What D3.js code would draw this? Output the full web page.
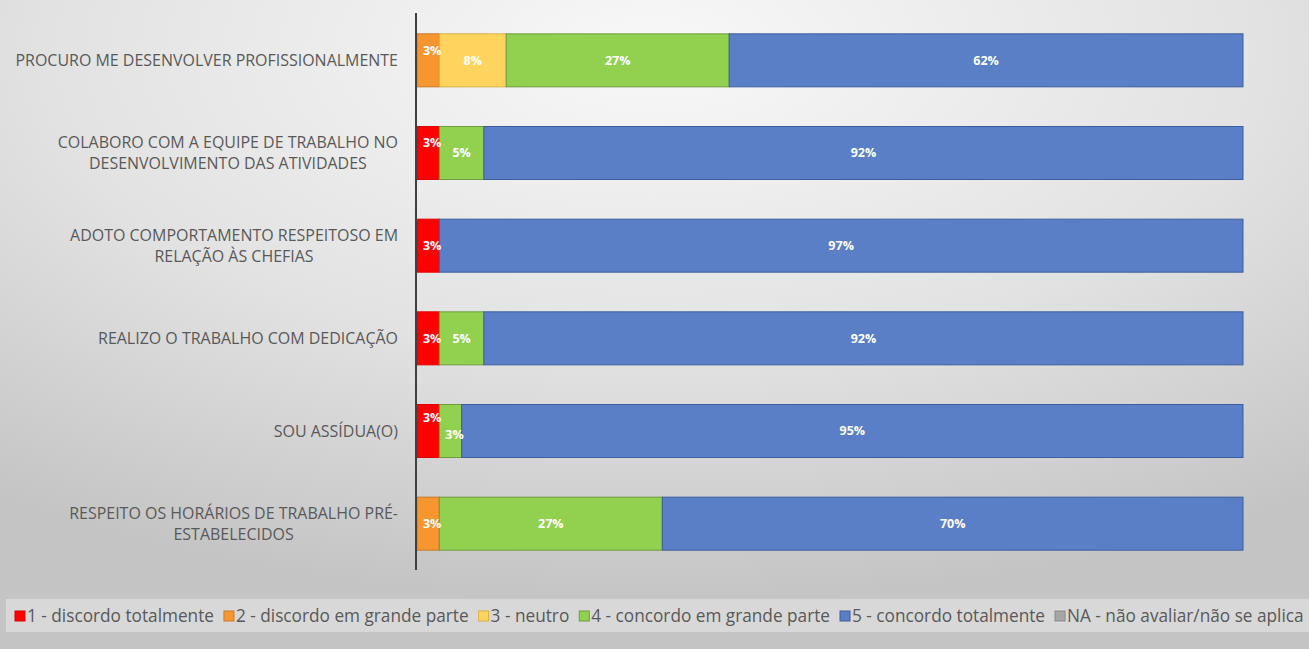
<!DOCTYPE html>
<html>
<head>
<meta charset="utf-8">
<script src="https://cdn.jsdelivr.net/npm/d3@7"></script>
<style>
  html, body { margin: 0; padding: 0; overflow: hidden; }
  body { width: 1309px; height: 649px; font-family: "Open Sans", Lato, sans-serif; }
</style>
</head>
<body>
<div id="chart"></div>
<script>
// categories (top to bottom)
const categories = [
    ["PROCURO ME DESENVOLVER PROFISSIONALMENTE"],
    ["COLABORO COM A EQUIPE DE TRABALHO NO", "DESENVOLVIMENTO DAS ATIVIDADES"],
    ["ADOTO COMPORTAMENTO RESPEITOSO EM", "RELAÇÃO ÀS CHEFIAS"],
    ["REALIZO O TRABALHO COM DEDICAÇÃO"],
    ["SOU ASSÍDUA(O)"],
    ["RESPEITO OS HORÁRIOS DE TRABALHO PRÉ-", "ESTABELECIDOS"]
];

const seriesNames = [
    "1 - discordo totalmente",
    "2 - discordo em grande parte",
    "3 - neutro",
    "4 - concordo em grande parte",
    "5 - concordo totalmente",
    "NA - não avaliar/não se aplica"
];

// percentages per series, one value per category
const s1 = [0, 2.7, 2.7, 2.7, 2.7, 0];
const s2 = [2.7, 0, 0, 0, 0, 2.7];
const s3 = [8.1, 0, 0, 0, 0, 0];
const s4 = [27.0, 5.4, 0, 5.4, 2.7, 27.0];
const s5 = [62.2, 91.9, 97.3, 91.9, 94.6, 70.3];
const sNA = [0, 0, 0, 0, 0, 0];

const fills = ['#ff0000', '#f7962e', '#ffd45e', '#92d050', '#5b7fc7', '#a5a5a5'];
const strokes = ['#e00000', '#c97a2a', '#d9b043', '#6f9c3c', '#3d5e9e', '#8a8a8a'];

const W = 1309, H = 649;
const svg = d3.select('#chart').append('svg')
    .attr('width', W)
    .attr('height', H);

// background gradient
const defs = svg.append('defs');
const grad = defs.append('radialGradient')
    .attr('id', 'bg')
    .attr('cx', '50%').attr('cy', '8%')
    .attr('r', '85%');
grad.append('stop').attr('offset', '0%').attr('stop-color', '#f8f8f8');
grad.append('stop').attr('offset', '55%').attr('stop-color', '#e2e2e2');
grad.append('stop').attr('offset', '100%').attr('stop-color', '#c4c4c4');

svg.append('rect')
    .attr('width', W).attr('height', H)
    .attr('fill', 'url(#bg)');

const series = [s1, s2, s3, s4, s5, sNA];
const rows = categories.map((c, i) => {
    const r = { idx: i };
    series.forEach((s, k) => { r['k' + k] = s[i]; });
    return r;
});
const keys = series.map((s, k) => 'k' + k);
const stacked = d3.stack().keys(keys)(rows);

const margin = { left: 417, right: 66 };
const x = d3.scaleLinear()
    .domain([0, 100])
    .range([margin.left, W - margin.right]);
const y = d3.scaleBand()
    .domain(d3.range(categories.length))
    .range([14, 570])
    .paddingInner(0.428)
    .paddingOuter(0.214);

// bars
const layer = svg.append('g').selectAll('g')
    .data(stacked)
    .enter()
    .append('g')
    .attr('fill', (d, k) => fills[k])
    .attr('stroke', (d, k) => strokes[k]);

layer.selectAll('rect')
    .data(d => d.filter(p => p[1] - p[0] > 0))
    .enter()
    .append('rect')
    .attr('x', d => x(d[0]))
    .attr('y', d => y(d.data.idx))
    .attr('width', d => x(d[1]) - x(d[0]))
    .attr('height', y.bandwidth())
    .attr('stroke-width', 1);

// data labels (small ones nudged so they don't collide)
const labels = [];
stacked.forEach((layerData, k) => {
    layerData.forEach(p => {
        const v = p[1] - p[0];
        if (v <= 0) return;
        const i = p.data.idx;
        let cx = x((p[0] + p[1]) / 2);
        let cy = y(i) + y.bandwidth() / 2;
        if (v < 4) {
            cx += 4;
            const nextVal = series.slice(k + 1).map(s => s[i]).find(val => val > 0);
            const prevVal = series.slice(0, k).map(s => s[i]).filter(val => val > 0).pop();
            if (nextVal !== undefined && nextVal < 4) cy -= 13;
            else if (nextVal !== undefined && nextVal < 10 && i < 3) cy -= 10;
            else if (prevVal !== undefined && prevVal < 4 && k > 2) cy += 4;
        }
        labels.push({ x: cx, y: cy, text: Math.round(v) + '%' });
    });
});

svg.append('g').selectAll('text')
    .data(labels)
    .enter()
    .append('text')
    .attr('x', d => d.x)
    .attr('y', d => d.y)
    .attr('dy', '0.35em')
    .attr('text-anchor', 'middle')
    .attr('fill', '#ffffff')
    .attr('font-size', 12.5)
    .attr('font-weight', 'bold')
    .text(d => d.text);

// axis line
svg.append('line')
    .attr('x1', margin.left - 1).attr('x2', margin.left - 1)
    .attr('y1', 13).attr('y2', 570)
    .attr('stroke', '#404040')
    .attr('stroke-width', 2);

// category labels
const catG = svg.append('g').selectAll('text')
    .data(categories)
    .enter()
    .append('text')
    .attr('fill', '#595959')
    .attr('font-size', 14);

catG.each(function(lines, i) {
    const cy = y(i) + y.bandwidth() / 2;
    const lh = 20.5;
    const start = cy - (lines.length - 1) * lh / 2;
    d3.select(this).selectAll('tspan')
        .data(lines)
        .enter()
        .append('tspan')
        .attr('y', (d, j) => start + j * lh)
        .attr('dy', '0.35em')
        .text(d => d);
});

// fit the longest label to the space left of the axis
const widest = d3.max(catG.selectAll('tspan').nodes(), n => n.getComputedTextLength());
const catSize = 14 * 383 / widest;
catG.attr('font-size', catSize);

// right-align first line, center following lines under it
catG.each(function() {
    const t = d3.select(this).selectAll('tspan').nodes();
    const w = t[0].getComputedTextLength();
    t.forEach((n, j) => {
        if (j === 0) d3.select(n).attr('x', 398).attr('text-anchor', 'end');
        else d3.select(n).attr('x', 398 - w / 2).attr('text-anchor', 'middle');
    });
});

// legend
svg.append('rect')
    .attr('x', 6).attr('y', 599)
    .attr('width', W - 6).attr('height', 33)
    .attr('fill', '#dcdcdc')
    .attr('opacity', 0.85);

const legend = svg.append('g').attr('class', 'legend');
const items = legend.selectAll('g')
    .data(seriesNames)
    .enter()
    .append('g');
items.append('rect')
    .attr('width', 10).attr('height', 10)
    .attr('y', 611)
    .attr('fill', (d, k) => fills[k])
    .attr('stroke', (d, k) => strokes[k]);
const legText = items.append('text')
    .attr('x', 12)
    .attr('y', 616)
    .attr('dy', '0.35em')
    .attr('fill', '#595959')
    .attr('font-size', 14)
    .text(d => d);

// scale legend font so the row spans the chart width
const gap = 10;
const natural = d3.sum(legText.nodes(), n => n.getComputedTextLength());
const avail = 1305 - 15 - seriesNames.length * 12 - (seriesNames.length - 1) * gap;
legText.attr('font-size', 14 * avail / natural);

let cursor = 15;
items.each(function(d, k) {
    d3.select(this).attr('transform', 'translate(' + cursor + ',0)');
    cursor += d3.select(this).select('text').node().getComputedTextLength() + 12 + gap;
});
</script>
</body>
</html>
